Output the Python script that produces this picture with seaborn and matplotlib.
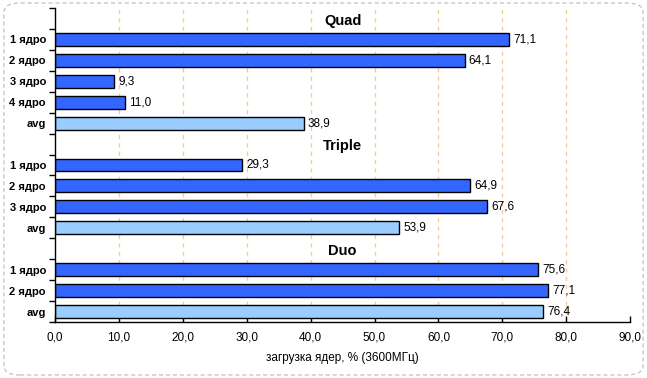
import pandas as pd
import numpy as np
import matplotlib
matplotlib.use('Agg')
import matplotlib.pyplot as plt
from matplotlib.patches import FancyBboxPatch
import seaborn as sns

# --- Data ---
groups = ['Quad', 'Triple', 'Duo']
quad_labels = ['1 ядро', '2 ядро', '3 ядро', '4 ядро', 'avg']
quad_values = [71.1, 64.1, 9.3, 11.0, 38.9]
triple_labels = ['1 ядро', '2 ядро', '3 ядро', 'avg']
triple_values = [29.3, 64.9, 67.6, 53.9]
duo_labels = ['1 ядро', '2 ядро', 'avg']
duo_values = [75.6, 77.1, 76.4]
x_ticks = [0, 10, 20, 30, 40, 50, 60, 70, 80, 90]
x_label = 'загрузка ядер, % (3600МГц)'

CORE_COLOR = '#3366FF'
AVG_COLOR = '#99CCFF'

# build rows: a header slot per group followed by its bars
order, tick_text, records, headers = [], [], [], []
for g, labels, values in zip(groups, [quad_labels, triple_labels, duo_labels],
                             [quad_values, triple_values, duo_values]):
    headers.append((g, len(order)))
    order.append(g + '|header')
    tick_text.append('')
    for lab, val in zip(labels, values):
        key = g + '|' + lab
        order.append(key)
        tick_text.append(lab)
        records.append({'key': key, 'value': val,
                        'kind': 'avg' if lab == 'avg' else 'core'})
df = pd.DataFrame(records)

sns.set_style('white')
plt.rcParams['font.family'] = ['Liberation Sans', 'DejaVu Sans']
plt.rcParams['text.color'] = 'black'
plt.rcParams['xtick.color'] = 'black'
plt.rcParams['ytick.color'] = 'black'
plt.rcParams['axes.labelcolor'] = 'black'

fig = plt.figure(figsize=(6.47, 3.78), dpi=100)
ax = fig.add_axes([0.085, 0.148, 0.889, 0.831])

sns.barplot(data=df, x='value', y='key', hue='kind', order=order,
            palette={'core': CORE_COLOR, 'avg': AVG_COLOR}, saturation=1,
            dodge=False, width=0.62, edgecolor='black', linewidth=1.0,
            legend=False, ax=ax)

# value labels
pos = {k: i for i, k in enumerate(order)}
for _, r in df.iterrows():
    ax.annotate(f"{r['value']:.1f}".replace('.', ','), (r['value'], pos[r['key']]),
                xytext=(3, 0), textcoords='offset points',
                va='center', ha='left', fontsize=8.5)

# group headers
for g, i in headers:
    ax.text(45, i + 0.1, g, ha='center', va='center', fontsize=10.5, fontweight='bold')

ax.set_xlim(0, 90)
ax.set_ylim(len(order) - 0.5, -0.5)
ax.set_xticks(x_ticks)
ax.set_xticklabels([f"{t:.1f}".replace('.', ',') for t in x_ticks], fontsize=8.5)
ax.set_yticks(range(len(order)))
ax.set_yticklabels(tick_text, fontsize=8, fontweight='bold')
ax.set_yticks(np.arange(len(order) + 1) - 0.5, minor=True)
ax.tick_params(axis='y', which='major', left=False, length=0, pad=6.5)
ax.tick_params(axis='y', which='minor', left=True, length=4, width=1, direction='out')
ax.tick_params(axis='x', bottom=True, length=4, width=1, direction='in', pad=7)
ax.set_xlabel(x_label, fontsize=8.5, labelpad=6)
ax.set_ylabel('')

for t in x_ticks[1:-1]:
    ax.axvline(t, color='#F5CC90', lw=1, ls=(0, (3, 3)), zorder=0)

for s in ['top', 'right']:
    ax.spines[s].set_visible(False)
for s in ['left', 'bottom']:
    ax.spines[s].set_color('black')
    ax.spines[s].set_linewidth(1)

border = FancyBboxPatch((0.006, 0.008), 0.988, 0.984,
                        boxstyle='round,pad=0,rounding_size=0.025',
                        transform=fig.transFigure, fill=False,
                        ec='#C8C8C8', lw=1, ls=(0, (3, 2)))
fig.patches.append(border)

fig.savefig('out.png', dpi=100)
